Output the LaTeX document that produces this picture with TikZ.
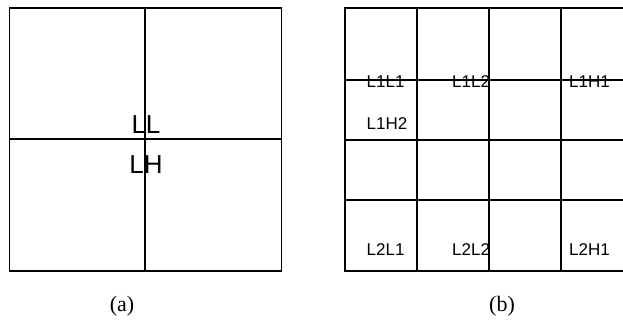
\documentclass[tikz,border=0pt]{standalone}
\usepackage{fontspec}
\setmainfont{Liberation Serif}
\setsansfont{Liberation Sans}
\begin{document}
\begin{tikzpicture}[x=1pt,y=-1pt,
  frame/.style={line width=1.7pt},
  inner/.style={line width=1.4pt},
  big/.style={font=\sffamily\fontsize{26}{30}\selectfont, inner sep=0pt},
  band/.style={font=\sffamily\fontsize{17}{20}\selectfont, inner sep=0pt, anchor=base west},
  caption/.style={font=\rmfamily\fontsize{22}{26}\selectfont, inner sep=0pt}]
\useasboundingbox (0,0) rectangle (623,325);

% (a) one-level split
\draw[frame] (9.5,8) rectangle (281.5,271);
\draw[inner] (145,8) -- (145,271);
\draw[inner] (9.5,139) -- (281.5,139);
\node[big, anchor=base] (ll) at (146,133) {LL};
\node[big, anchor=base] (lh) at (146,173) {LH};
\node[caption] (capa) at (122,306) {(a)};

% (b) two-level split, grid runs off the right side
\draw[frame] (623,8) -- (345,8) -- (345,271) -- (623,271);
\foreach \xx in {417.3,489,561}
  \draw[frame] (\xx,8) -- (\xx,271);
\foreach \yy in {80,140,200}
  \draw[frame] (345,\yy) -- (623,\yy);
\node[band] (l1l1) at (366.5,87) {L1L1};
\node[band] (l1l2) at (452,87) {L1L2};
\node[band] (l1h1) at (569,87) {L1H1};
\node[band] (l1h2) at (366.5,129) {L1H2};
\node[band] (l2l1) at (366.5,255) {L2L1};
\node[band] (l2l2) at (452,255) {L2L2};
\node[band] (l2h1) at (569,255) {L2H1};
\node[caption] (capb) at (502,306) {(b)};
\end{tikzpicture}
\end{document}
